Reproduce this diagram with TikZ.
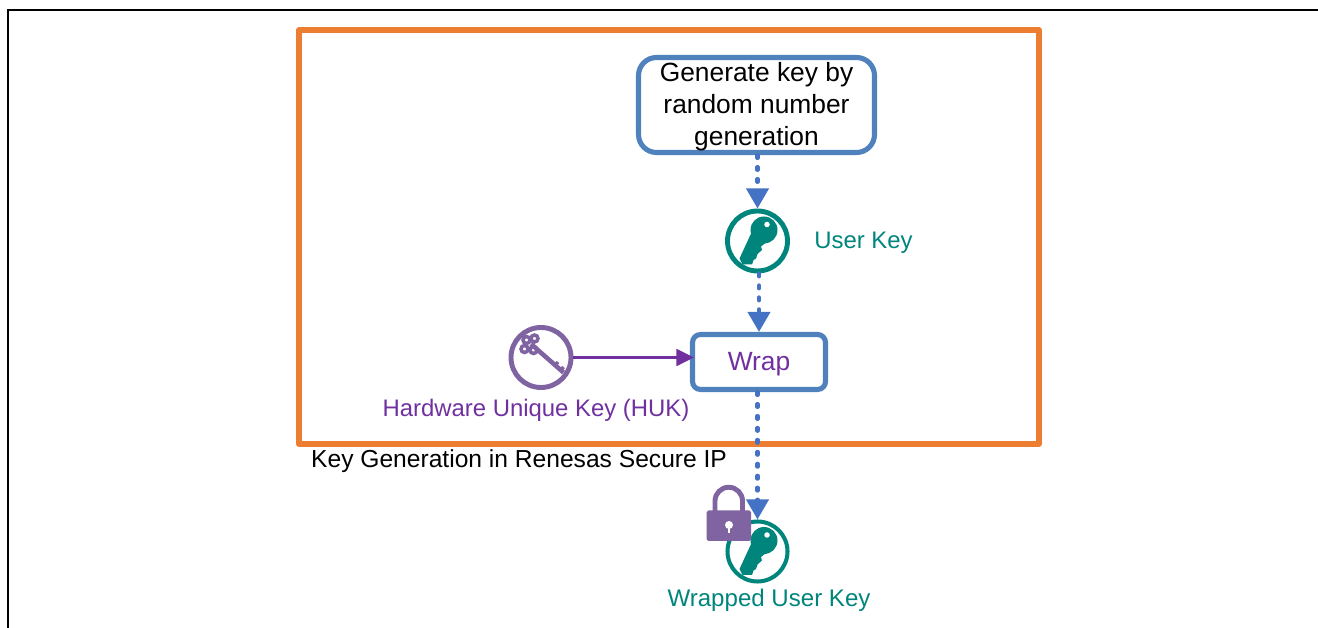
\documentclass[tikz,border=0pt]{standalone}
\usepackage{fontspec}
\setmainfont{Liberation Sans}
\usetikzlibrary{positioning, arrows.meta}

\definecolor{frameorange}{HTML}{ED7D31}
\definecolor{boxblue}{HTML}{4F81BD}
\definecolor{flowblue}{HTML}{4472C4}
\definecolor{keyteal}{HTML}{00857C}
\definecolor{hukpurple}{HTML}{8064A2}
\definecolor{textpurple}{HTML}{7030A0}
\newcommand{\lowerline}{\rule{0pt}{13.3pt}}

\begin{document}
\begin{tikzpicture}[
    flow/.style={-{Triangle[length=11.4pt, width=12.5pt]}, line width=2.3pt, flowblue, line cap=round, dash pattern=on 1.7pt off 5.1pt},
    stepbox/.style={draw=boxblue, line width=2.9pt, fill=white, align=center, inner sep=0pt},
    ring/.style={circle, draw=#1, line width=2.8pt, minimum size=1.2cm, inner sep=0pt},
    keyglyph/.pic={
        \fill[keyteal] (-.11,.19) -- (-.36,-.35) -- (-.30,-.47) -- (-.11,-.47) -- (-.08,-.38) -- (-.03,-.35) -- (0,-.26) -- (.09,-.18) -- (.07,-.11) -- (.22,.01) -- cycle;
        \fill[keyteal] (.13,.22) circle (.27);
        \fill[white] (.19,.33) circle (.055);
    },
    bigtext/.style={font=\fontsize{15}{18.2}\selectfont},
    midtext/.style={font=\fontsize{14}{17}\selectfont},
    smalltext/.style={font=\fontsize{13.6}{16}\selectfont}
]
    \useasboundingbox (0, 0) rectangle (26.36, 12.56);

    % Page frame, open on the right
    \draw[line width=1.2pt] (0.16, 0) -- (0.16, 12.36) -- (26.36, 12.36);

    % Secure IP boundary
    \draw[frameorange, line width=3pt, line join=round] (5.98, 3.68) rectangle (20.78, 11.96);
    \node[midtext, anchor=west] (iplabel) at (6.1, 3.34) {Key Generation in Renesas Secure IP};

    % Steps
    \node[stepbox, bigtext, rounded corners=0.36cm, minimum width=4.72cm, minimum height=1.9cm] (genkey) at (15.13, 10.46) {\lowerline Generate key by\\random number\\generation};
    \node[stepbox, bigtext, text=textpurple, rounded corners=0.16cm, minimum width=2.66cm, minimum height=1.1cm] (wrap) at (15.18, 5.32) {\lowerline Wrap};

    % User key
    \node[ring=keyteal] (userkey) at (15.15, 7.74) {};
    \pic at (userkey) {keyglyph};
    \node[smalltext, text=keyteal] (userlabel) at (17.27, 7.7) {User Key};

    % Hardware unique key
    \node[ring=hukpurple] (huk) at (10.82, 5.41) {};
    \begin{scope}[shift={(huk)}, hukpurple]
        \foreach \lobe in {(-.29,.35), (-.13,.38), (-.33,.17), (-.15,.15)}
            \draw[line width=2pt] \lobe circle (.07);
        \draw[line width=2.6pt] (-.2,.27) -- (.45,-.3);
        \draw[line width=2pt] (.27,-.17) -- (.34,-.09);
        \draw[line width=2pt] (.38,-.27) -- (.45,-.19);
    \end{scope}
    \node[font=\fontsize{13.6}{16}\selectfont, text=textpurple] (huklabel) at (10.72, 4.36) {Hardware Unique Key (HUK)};

    % Wrapped user key
    \node[ring=keyteal, line width=2.3pt] (wrappedkey) at (15.15, 1.53) {};
    \pic at (wrappedkey) {keyglyph};
    \node[font=\fontsize{13.7}{16}\selectfont, text=keyteal] (wrappedlabel) at (15.38, 0.56) {Wrapped User Key};

    % Lock
    \draw[hukpurple, line width=2.8pt] (14.30, 2.3) -- (14.30, 2.54) arc (180:0:.275) -- (14.85, 2.3);
    \fill[hukpurple, rounded corners=1pt] (14.13, 1.74) rectangle (15.02, 2.35);
    \fill[white] (14.58, 2.06) circle (.08);
    \draw[white, line width=1.4pt] (14.58, 2.06) -- (14.58, 1.9);

    % Connectors
    \draw[flow] (genkey.south -| userkey.north) -- (userkey.north);
    \draw[flow] (wrap.north |- userkey.south) -- (wrap.north);
    \draw[flow] (wrappedkey.north |- wrap.south) -- (wrappedkey.north);
    \draw[-{Triangle[length=10pt, width=9.5pt]}, line width=1.4pt, textpurple, shorten >=-0.08cm] (huk.east) -- (huk.east -| wrap.west);
\end{tikzpicture}
\end{document}
